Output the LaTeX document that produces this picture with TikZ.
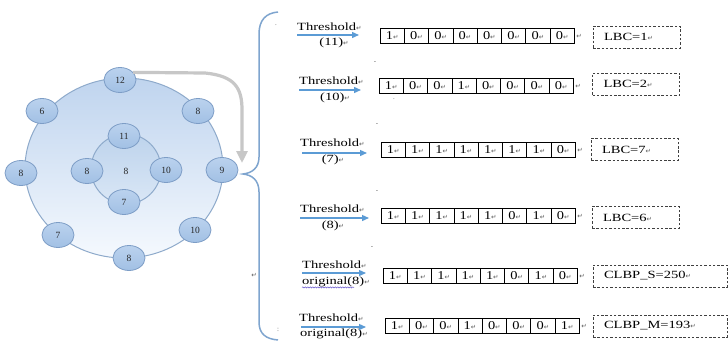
\documentclass[tikz,border=0pt]{standalone}
\usepackage{fontspec}
\setmainfont{Liberation Serif}
\newfontfamily\marksfont{DejaVu Sans}
\usepackage{graphicx}
\usetikzlibrary{shapes.geometric,arrows.meta,decorations.pathmorphing}

\definecolor{ringtop}{HTML}{BFD4EE}
\definecolor{ringbot}{HTML}{F5F9FE}
\definecolor{innertop}{HTML}{BDD3EC}
\definecolor{innerbot}{HTML}{DAE7F6}
\definecolor{ringedge}{HTML}{8EAACB}
\definecolor{bubtop}{HTML}{BBD2EE}
\definecolor{bubbot}{HTML}{A2C0E4}
\definecolor{bubedge}{HTML}{7D9DC6}
\definecolor{bracecol}{HTML}{7FA5CF}
\definecolor{arrowblue}{HTML}{5B9BD5}
\definecolor{spellline}{HTML}{6A5ACD}

% paragraph mark and horizontally widened text
\newcommand{\rmk}{{\marksfont\fontsize{6.5}{7}\selectfont\textcolor{black!65}{↵}}}
\newcommand{\wide}[1]{\scalebox{1.32}[1]{#1}}

% one row of eight binary cells
\newcommand{\pixrow}[4]{%
  \foreach \b [count=\k] in {#4} {
    \node[cell] (r#1c\k) at ({#2+12.15+(\k-1)*24.3},#3) {\scalebox{1.2}[1]{\b}\rmk};
  }
  \node[txt, anchor=west] (r#1end) at ([xshift=1.5pt]r#1c8.east) {\rmk};
}

\begin{document}
\begin{tikzpicture}[x=1pt,y=-1pt,
  bub/.style={ellipse, draw=bubedge, line width=0.8pt, top color=bubtop,
    bottom color=bubbot, minimum width=32pt, minimum height=25pt,
    inner sep=0pt, font=\fontsize{9.5}{10}\selectfont, text=black!85},
  cell/.style={rectangle, draw=black, line width=0.7pt, minimum width=24.3pt,
    minimum height=15pt, inner sep=0pt, font=\fontsize{12}{13}\selectfont},
  txt/.style={inner sep=0pt, font=\fontsize{11}{12}\selectfont},
  dbox/.style={draw=black!75, dash pattern=on 2.5pt off 1.8pt, line width=0.7pt,
    minimum height=22pt, inner xsep=11pt, inner ysep=0pt, align=left,
    font=\fontsize{11}{12}\selectfont, text width=65pt},
  flow/.style={draw=arrowblue, line width=1.3pt, -{Triangle[length=7pt,width=6pt]}},
  stray/.style={inner sep=0pt, font=\fontsize{7}{7}\selectfont, text=black!60}]

\useasboundingbox (0,0) rectangle (728,340);
\fill[white] (0,0) rectangle (728,340);

% neighbourhood rings
\node[ellipse, draw=ringedge, line width=1pt, top color=ringtop, bottom color=ringbot,
  minimum width=198pt, minimum height=180pt, inner sep=0pt] (ring) at (124,168) {};
\node[circle, draw=ringedge, line width=1pt, top color=innertop, bottom color=innerbot,
  minimum size=70pt, inner sep=0pt] (inner) at (126,169) {};

% outer neighbours
\node[bub] (n12) at (120,80) {12};
\node[bub] (n6) at (42,111) {6};
\node[bub] (n8a) at (198,111) {8};
\node[bub] (n8b) at (21,173) {8};
\node[bub] (n9) at (222,170) {9};
\node[bub] (n7a) at (58,235) {7};
\node[bub] (n10a) at (195,230) {10};
\node[bub] (n8c) at (129,258) {8};

% inner neighbours and centre
\node[bub] (n11) at (124,136) {11};
\node[bub] (n8d) at (87,171) {8};
\node[bub] (n10b) at (166,170) {10};
\node[bub] (n7b) at (124,202) {7};
\node[inner sep=0pt, font=\fontsize{9.5}{10}\selectfont, text=black!85] (ctr) at (126,171) {8};

% sweep arrow
\coordinate (drop) at (242,163);
\draw[line width=3.2pt, color=black!22, -{Triangle[length=12pt,width=11pt]}]
  (n12.30) -- (205,73) .. controls (235,76) and (242,88) .. (242,110) -- (drop);

% brace
\draw[bracecol, line width=1.5pt]
  (278,12) .. controls (266,13) and (259,20) .. (259,34) -- (259,157)
  .. controls (259,168) and (252,173) .. (243,174)
  .. controls (252,175) and (259,180) .. (259,192) -- (259,322)
  .. controls (259,334) and (266,339) .. (278,340);

% row 1
\node[txt, anchor=west] (t1) at (297,27) {\wide{Threshold}\rmk};
\node[txt] (p1) at (334,43) {\wide{(11)}\rmk};
\coordinate (a1s) at (297,35); \coordinate (a1e) at (359,35);
\draw[flow] (a1s) -- (a1e);
\pixrow{1}{380}{36}{1,0,0,0,0,0,0,0}
\node[dbox] (l1) at (636.5,37) {\wide{LBC=1}\rmk};

% row 2
\node[txt, anchor=west] (t2) at (299,81) {\wide{Threshold}\rmk};
\node[txt] (p2) at (335,98) {\wide{(10)}\rmk};
\coordinate (a2s) at (299,90); \coordinate (a2e) at (361,90);
\draw[flow] (a2s) -- (a2e);
\pixrow{2}{379}{86}{1,0,0,1,0,0,0,0}
\node[dbox] (l2) at (636,84) {\wide{LBC=2}\rmk};

% row 3
\node[txt, anchor=west] (t3) at (300,143) {\wide{Threshold}\rmk};
\node[txt] (p3) at (333,160) {\wide{(7)}\rmk};
\coordinate (a3s) at (302,153); \coordinate (a3e) at (367,153);
\draw[flow] (a3s) -- (a3e);
\pixrow{3}{381}{150}{1,1,1,1,1,1,1,0}
\node[dbox] (l3) at (634.5,149.5) {\wide{LBC=7}\rmk};

% row 4
\node[txt, anchor=west] (t4) at (300,209) {\wide{Threshold}\rmk};
\node[txt] (p4) at (333,226) {\wide{(8)}\rmk};
\coordinate (a4s) at (300,218); \coordinate (a4e) at (369,218);
\draw[flow] (a4s) -- (a4e);
\pixrow{4}{381}{216}{1,1,1,1,1,0,1,0}
\node[dbox] (l4) at (635.5,217.5) {\wide{LBC=6}\rmk};

% row 5
\node[txt, anchor=west] (t5) at (302,265) {\wide{Threshold}\rmk};
\node[txt, anchor=west] (o5) at (302,282) {\wide{original(8)}\rmk};
\draw[spellline, line width=0.5pt, decorate,
  decoration={snake, amplitude=0.6pt, segment length=2.5pt}]
  ([yshift=-2.8pt]o5.base west) -- ++(52,0);
\coordinate (a5s) at (302,273); \coordinate (a5e) at (366,273);
\draw[flow] (a5s) -- (a5e);
\pixrow{5}{383}{276}{1,1,1,1,1,0,1,0}
\node[dbox, text width=112pt] (l5) at (660,276) {\wide{CLBP\_S=250}\rmk};

% row 6
\node[txt, anchor=west] (t6) at (299,318) {\wide{Threshold}\rmk};
\node[txt, anchor=west] (o6) at (300,334) {\wide{original(8)}\rmk};
\coordinate (a6s) at (301,327); \coordinate (a6e) at (366,327);
\draw[flow] (a6s) -- (a6e);
\pixrow{6}{385}{326}{1,0,0,1,0,0,0,1}
\node[dbox, text width=112pt] (l6) at (660,326) {\wide{CLBP\_M=193}\rmk};

% small leftover marks
\node[stray] (s1) at (375,63) {-};
\node[stray] (s2) at (377,125) {-};
\node[stray] (s3) at (377,192) {-};
\node[stray] (s4) at (372,248) {-};
\node[stray] (s5) at (276,25) {.};
\node[stray] (s6) at (394,99) {.};
\node[stray] (s7) at (278,330) {:};
\node[stray, anchor=center] (s8) at (254,275) {\rmk};
\end{tikzpicture}
\end{document}
